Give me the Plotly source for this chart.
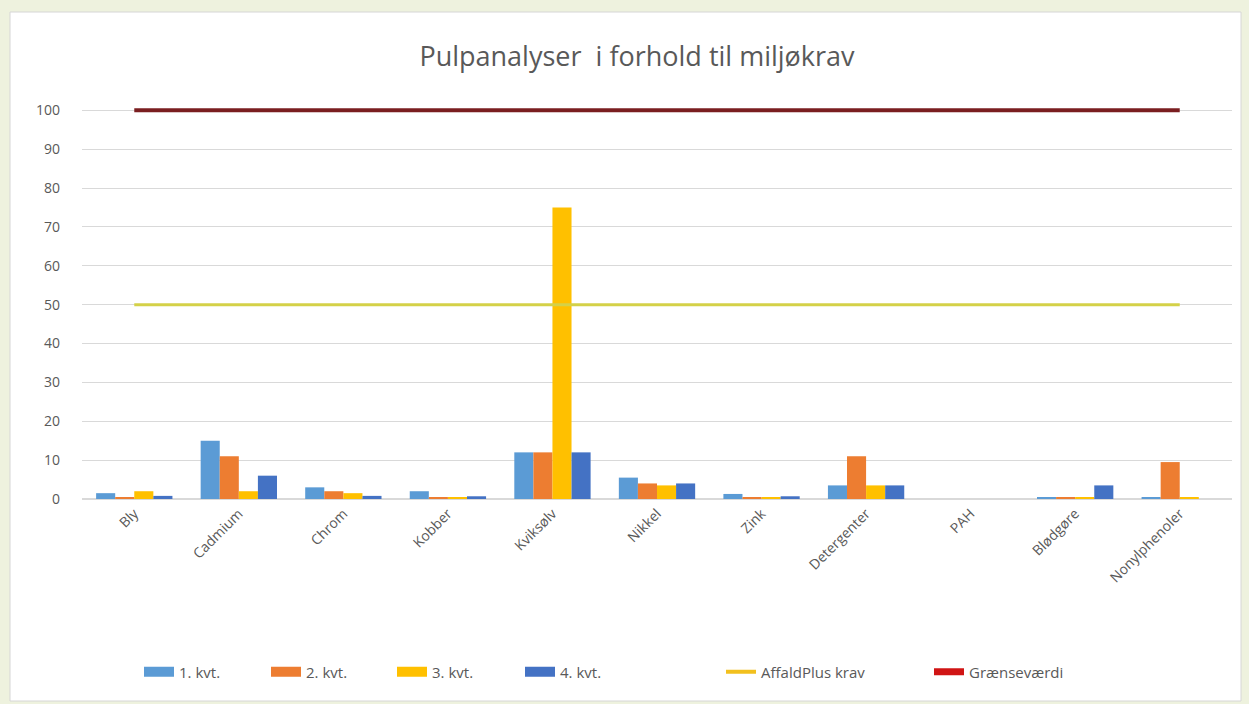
import plotly.graph_objects as go

categories = ["Bly", "Cadmium", "Chrom", "Kobber", "Kviksølv", "Nikkel", "Zink",
              "Detergenter", "PAH", "Blødgøre", "Nonylphenoler"]
kvt1 = [1.5, 15, 3, 2, 12, 5.5, 1.3, 3.5, 0, 0.5, 0.5]
kvt2 = [0.5, 11, 2, 0.5, 12, 4, 0.5, 11, 0, 0.5, 9.5]
kvt3 = [2, 2, 1.5, 0.5, 75, 3.5, 0.5, 3.5, 0, 0.5, 0.5]
kvt4 = [0.8, 6, 0.8, 0.7, 12, 4, 0.7, 3.5, 0, 3.5, 0]
affaldplus = [50] * len(categories)
graensevaerdi = [100] * len(categories)

series_names = ["1. kvt.", "2. kvt.", "3. kvt.", "4. kvt."]
bar_colors = ["#5B9BD5", "#ED7D31", "#FFC000", "#4472C4"]

L, R, T, B = 82, 17, 108, 205
W, H = 1249, 704
ph = H - T - B
pw = W - L - R

def px_x(p):
    return (p - L) / pw

def px_y(p):
    return (H - B - p) / ph

font = "Open Sans, Lato, sans-serif"
grey = "#595959"

# legend symbol start positions (pixels) for each entry
legend_x = [146, 273, 399, 527, 728, 936]
legend_ids = ["legend", "legend2", "legend3", "legend4", "legend5", "legend6"]

fig = go.Figure()
for i, (name, vals, col) in enumerate(zip(series_names, [kvt1, kvt2, kvt3, kvt4], bar_colors)):
    fig.add_trace(go.Bar(x=categories, y=vals, name=name, marker_color=col,
                         marker_line_width=0, showlegend=False, legendgroup=name))
    # legend-only entry drawn as a wide rectangle like the original
    fig.add_trace(go.Scatter(x=[None], y=[None], name=name, mode="lines",
                             line=dict(color=col, width=11), legendgroup=name,
                             legend=legend_ids[i]))

fig.add_trace(go.Scatter(x=categories, y=affaldplus, name="AffaldPlus krav",
                         mode="lines", line=dict(color="#D4D148", width=3),
                         showlegend=False, legendgroup="aff"))
fig.add_trace(go.Scatter(x=[None], y=[None], name="AffaldPlus krav", mode="lines",
                         line=dict(color="#F2C01E", width=4), legendgroup="aff",
                         legend=legend_ids[4]))
fig.add_trace(go.Scatter(x=categories, y=graensevaerdi, name="Grænseværdi",
                         mode="lines", line=dict(color="#7A1E20", width=4),
                         showlegend=False, legendgroup="gr"))
fig.add_trace(go.Scatter(x=[None], y=[None], name="Grænseværdi", mode="lines",
                         line=dict(color="#D01414", width=7), legendgroup="gr",
                         legend=legend_ids[5]))

legend_common = dict(orientation="h", xanchor="left", y=px_y(672), yanchor="middle",
                     font=dict(size=15, color=grey), bgcolor="rgba(0,0,0,0)",
                     borderwidth=0)
legends = {}
for lid, lx in zip(legend_ids, legend_x):
    legends[lid] = dict(legend_common, x=px_x(lx - 7))

fig.update_layout(
    width=W, height=H,
    autosize=False,
    margin=dict(l=L, r=R, t=T, b=B),
    paper_bgcolor="#EEF2DE",
    plot_bgcolor="white",
    barmode="group",
    bargap=0.27,
    bargroupgap=0,
    font=dict(family=font, color=grey),
    title=dict(text="Pulpanalyser  i forhold til miljøkrav", x=px_x(637), xref="paper",
               xanchor="center", y=1 - 57 / H, yanchor="middle",
               font=dict(size=27, color=grey)),
    xaxis=dict(tickangle=-45, tickfont=dict(size=14, color=grey), showgrid=False,
               showline=True, linecolor="#D9D9D9", ticks=""),
    yaxis=dict(range=[0, 100.6], dtick=10, tick0=0, gridcolor="#D9D9D9", gridwidth=1,
               tickfont=dict(size=14, color=grey), zeroline=True, zerolinecolor="#D9D9D9",
               ticklabelstandoff=21),
    showlegend=True,
    shapes=[dict(type="rect", xref="paper", yref="paper", layer="below",
                 x0=px_x(10), x1=px_x(1241), y0=px_y(701), y1=px_y(12),
                 fillcolor="white", line=dict(color="#D6D6D6", width=1))],
    **legends,
)

fig.write_html(
    "out.html",
    config={"displayModeBar": False},
    post_script="document.body.style.margin='0';document.body.style.overflow='hidden';"
                "document.body.style.background='#EEF2DE';",
)
